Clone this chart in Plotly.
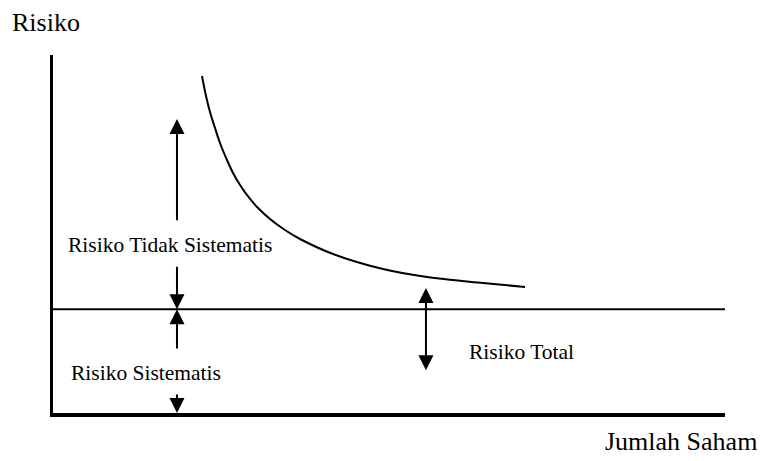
import plotly.graph_objects as go

# Curve: total risk vs number of stocks (axis units 0..100)
curve_x = [22.17, 22.77, 23.36, 24.11, 24.85, 25.89, 26.79, 27.83, 29.32, 30.51,
           32.29, 34.52, 36.76, 41.67, 49.11, 55.65, 63.99, 70.24]
curve_y = [94.13, 88.55, 84.08, 79.61, 75.42, 70.67, 67.04, 63.69, 59.78, 57.26,
           54.19, 51.12, 48.60, 44.41, 40.22, 37.99, 36.31, 35.20]

systematic_level = 29.0
x_range = [0, 100]
y_range = [0, 100]

# arrows: (y_tip, y_tail)
left_arrow_x = 18.45
unsys_up = (82.1, 53.4)
unsys_down = (29.0, 41.3)
sys_up = (29.0, 17.6)
sys_down = (0.0, 5.6)
total_x = 55.5
total_top = 34.9
total_bottom = 11.5

labels = {
    "unsys": ("Risiko Tidak Sistematis", 1.93, 46.9),
    "sys": ("Risiko Sistematis", 2.38, 11.3),
    "total": ("Risiko Total", 61.6, 17.0),
}
y_title = "Risiko"
x_title = "Jumlah Saham"

FONT = "Liberation Serif"

fig = go.Figure()
fig.add_trace(go.Scatter(x=curve_x, y=curve_y, mode="lines",
                         line=dict(color="black", width=2, shape="spline", smoothing=1),
                         hoverinfo="skip", showlegend=False))
fig.add_trace(go.Scatter(x=x_range, y=[systematic_level, systematic_level], mode="lines",
                         line=dict(color="black", width=2),
                         hoverinfo="skip", showlegend=False))

ann = []
def arrow(x, tip, tail, both=False):
    d = dict(x=x, y=tip, ax=x, ay=tail, xref="x", yref="y", axref="x", ayref="y",
             showarrow=True, arrowhead=2, arrowsize=1.5, arrowwidth=2,
             arrowcolor="black", text="", standoff=0, startstandoff=0)
    if both:
        d.update(arrowside="end+start", startarrowhead=2, startarrowsize=1.5)
    ann.append(d)

arrow(left_arrow_x, *unsys_up)
arrow(left_arrow_x, *unsys_down)
arrow(left_arrow_x, *sys_up)
arrow(left_arrow_x, *sys_down)
arrow(total_x, total_top, total_bottom, both=True)

for key, (txt, x, y) in labels.items():
    ann.append(dict(text=txt, x=x, y=y, xref="x", yref="y", showarrow=False,
                    xanchor="left", yanchor="middle",
                    font=dict(family=FONT, size=21.5, color="black")))

ann.append(dict(text=y_title, x=-0.064, y=1.092, xref="paper", yref="paper",
                showarrow=False, xanchor="left", yanchor="middle",
                font=dict(family=FONT, size=26, color="black")))
ann.append(dict(text=x_title, x=0.818, y=-0.081, xref="paper", yref="paper",
                showarrow=False, xanchor="left", yanchor="middle",
                font=dict(family=FONT, size=26, color="black")))

fig.update_layout(
    width=763, height=461,
    margin=dict(l=53, r=38, t=55, b=48),
    paper_bgcolor="white", plot_bgcolor="white",
    font=dict(family=FONT),
    annotations=ann,
    xaxis=dict(range=x_range, showgrid=False, zeroline=False, showticklabels=False,
               ticks="", showline=True, linecolor="black", linewidth=4, fixedrange=True),
    yaxis=dict(range=y_range, showgrid=False, zeroline=False, showticklabels=False,
               ticks="", showline=True, linecolor="black", linewidth=3, fixedrange=True),
)

fig.write_html("out.html", config={"displayModeBar": False},
               post_script="document.body.style.margin='0';document.body.style.overflow='hidden';")
